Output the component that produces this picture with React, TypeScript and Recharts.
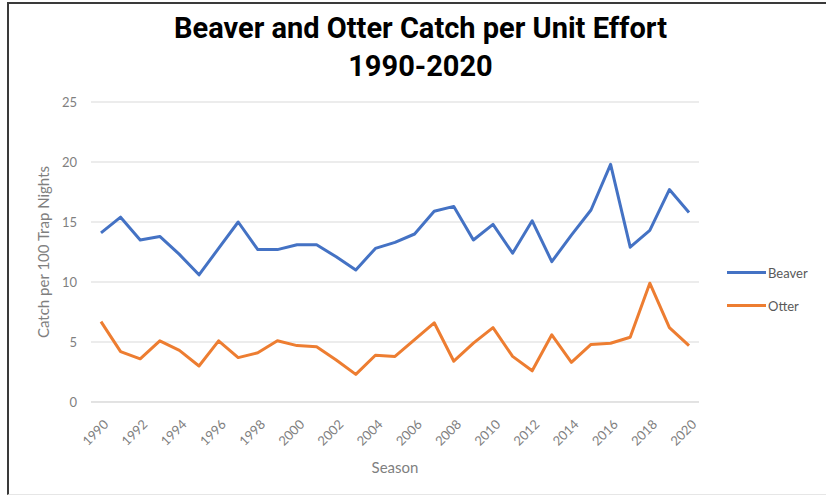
import { CartesianGrid, Label, Line, LineChart, XAxis, YAxis } from "recharts";

const SEASONS = [
  "1990", "1991", "1992", "1993", "1994", "1995", "1996", "1997", "1998", "1999",
  "2000", "2001", "2002", "2003", "2004", "2005", "2006", "2007", "2008", "2009",
  "2010", "2011", "2012", "2013", "2014", "2015", "2016", "2017", "2018", "2019", "2020",
];

const BEAVER = [
  14.1, 15.4, 13.5, 13.8, 12.3, 10.6, 12.8, 15.0, 12.7, 12.7,
  13.1, 13.1, 12.1, 11.0, 12.8, 13.3, 14.0, 15.9, 16.3, 13.5,
  14.8, 12.4, 15.1, 11.7, 13.9, 16.0, 19.8, 12.9, 14.3, 17.7, 15.8,
];

const OTTER = [
  6.7, 4.2, 3.6, 5.1, 4.3, 3.0, 5.1, 3.7, 4.1, 5.1,
  4.7, 4.6, 3.5, 2.3, 3.9, 3.8, 5.2, 6.6, 3.4, 4.9,
  6.2, 3.8, 2.6, 5.6, 3.3, 4.8, 4.9, 5.4, 9.9, 6.2, 4.7,
];

const Y_TICKS = [0, 5, 10, 15, 20, 25];

const SERIES = [
  { key: "Beaver", color: "#4472C4" },
  { key: "Otter", color: "#ED7D31" },
];

const data = SEASONS.map((s, i) => ({ season: s, Beaver: BEAVER[i], Otter: OTTER[i] }));

const AXIS_FONT = "Lato, 'Open Sans', sans-serif";
const TEXT_GRAY = "#7f7f7f";

function SeasonTick(props: any) {
  const { x, y, payload } = props;
  return (
    <g transform={`translate(${x + 5},${y + 12})`}>
      <text
        transform="rotate(-45)"
        textAnchor="end"
        dy="0.35em"
        fontSize={13}
        fontFamily={AXIS_FONT}
        fill={TEXT_GRAY}
      >
        {payload.value}
      </text>
    </g>
  );
}

export default function App() {
  return (
    <div style={{ position: "absolute", left: 0, top: 0, width: 826, height: 497, background: "#fff" }}>
      <div
        style={{
          position: "absolute",
          left: 7,
          top: 2,
          width: 830,
          height: 490,
          borderLeft: "2px solid #3a3a3a",
          borderTop: "2px solid #3a3a3a",
          borderBottom: "1px solid #e6e6e6",
        }}
      />
      <div
        style={{
          position: "absolute",
          left: 0,
          top: 9,
          width: 841,
          textAlign: "center",
          fontFamily: "Roboto, sans-serif",
          fontWeight: 700,
          fontSize: 29,
          lineHeight: "38px",
          color: "#000",
        }}
      >
        Beaver and Otter Catch per Unit Effort
        <br />
        1990-2020
      </div>
      <div style={{ position: "absolute", left: 0, top: 0 }}>
        <LineChart width={826} height={497} data={data} margin={{ top: 102, right: 127, bottom: 20, left: 0 }}>
          <CartesianGrid vertical={false} stroke="#d9d9d9" strokeWidth={1} />
          <XAxis
            dataKey="season"
            interval={1}
            tick={<SeasonTick />}
            tickLine={false}
            axisLine={{ stroke: "#d9d9d9" }}
            padding={{ left: 10, right: 10 }}
            height={75}
          >
            <Label
              value="Season"
              position="insideBottom"
              offset={4}
              style={{ fontFamily: AXIS_FONT, fontSize: 15, fill: TEXT_GRAY }}
            />
          </XAxis>
          <YAxis
            domain={[0, 25]}
            ticks={Y_TICKS}
            width={91}
            axisLine={false}
            tickLine={false}
            tickSize={0}
            tickMargin={14}
            tick={{ fontSize: 13, fontFamily: AXIS_FONT, fill: TEXT_GRAY }}
          >
            <Label
              value="Catch per 100 Trap Nights"
              angle={-90}
              position="center"
              dx={-2}
              style={{ fontFamily: AXIS_FONT, fontSize: 15, fill: TEXT_GRAY, textAnchor: "middle" }}
            />
          </YAxis>
          {SERIES.map((s) => (
            <Line
              key={s.key}
              dataKey={s.key}
              type="linear"
              stroke={s.color}
              strokeWidth={3}
              dot={false}
              strokeLinejoin="round"
              isAnimationActive={false}
            />
          ))}
        </LineChart>
      </div>
      <div
        style={{
          position: "absolute",
          left: 727,
          top: 256,
          fontFamily: AXIS_FONT,
          fontSize: 13,
          color: "#595959",
        }}
      >
        {SERIES.map((s) => (
          <div key={s.key} style={{ display: "flex", alignItems: "center", height: 33 }}>
            <span style={{ display: "inline-block", width: 39, height: 3, background: s.color, marginRight: 2 }} />
            {s.key}
          </div>
        ))}
      </div>
    </div>
  );
}
